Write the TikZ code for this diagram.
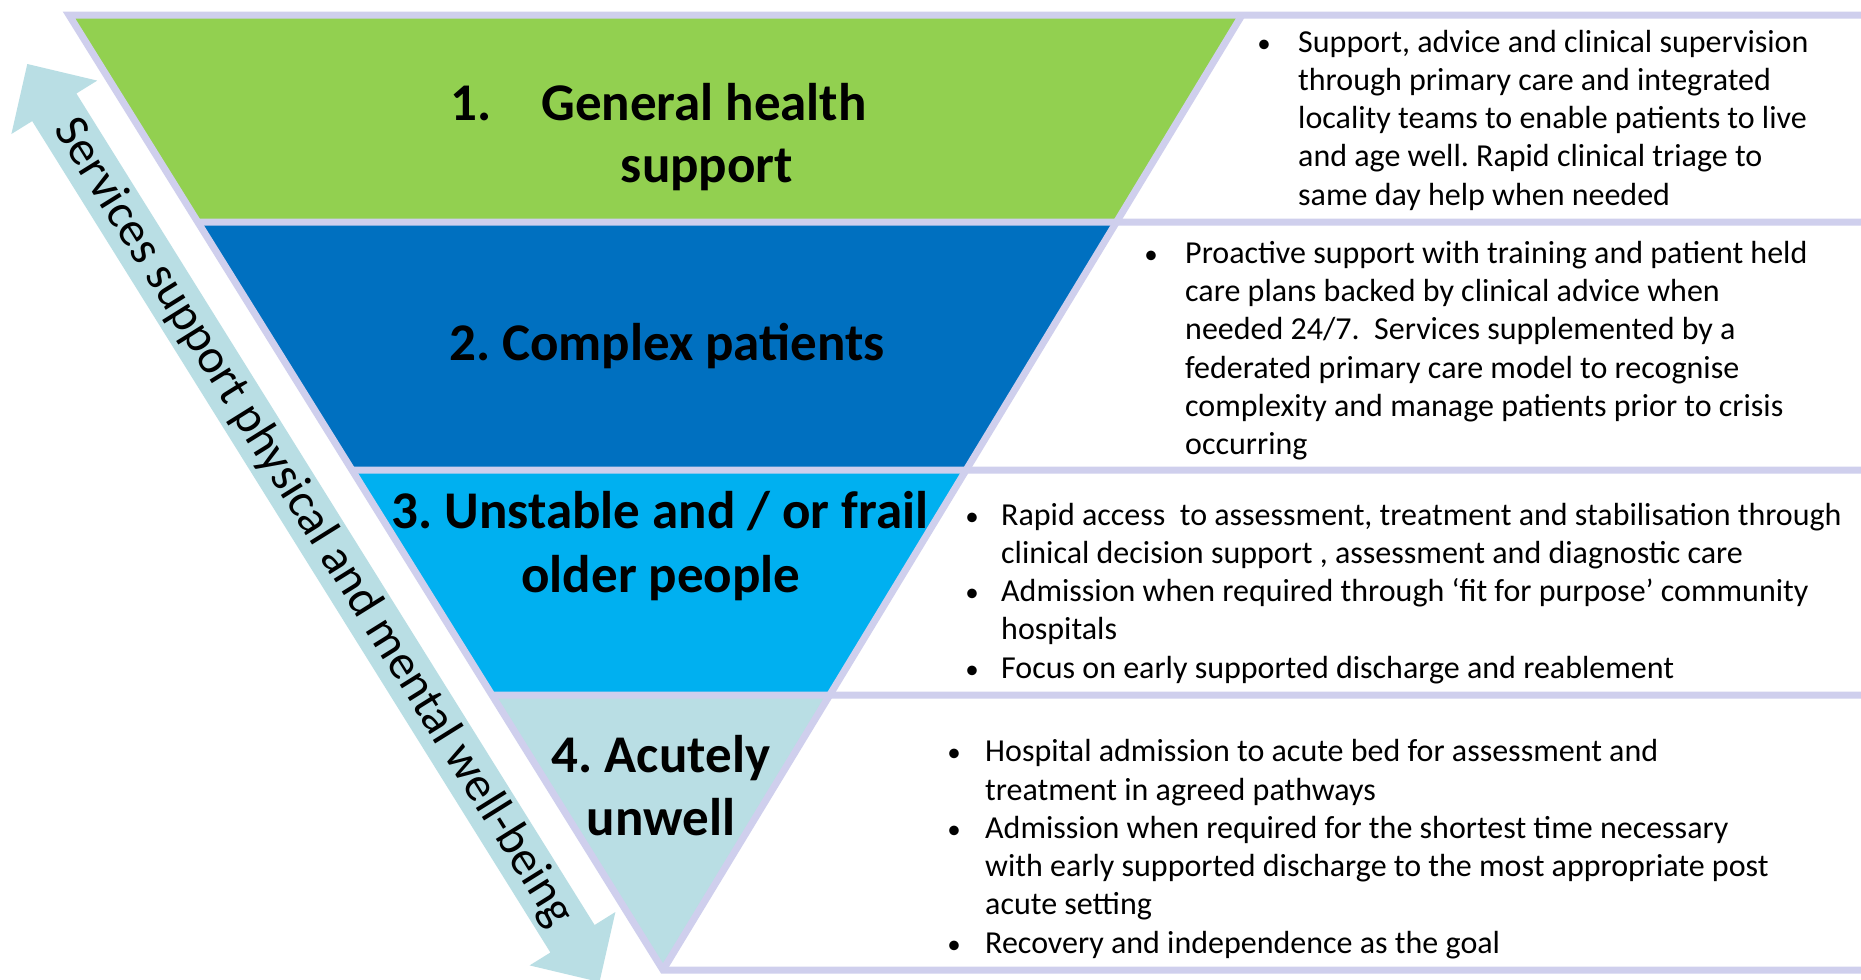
\documentclass[tikz,border=0pt]{standalone}
\usepackage{fontspec}
\setmainfont{Carlito}
\usetikzlibrary{calc}
\frenchspacing
\definecolor{lav}{RGB}{207,207,237}
\definecolor{cgreen}{RGB}{146,208,80}
\definecolor{cblue}{RGB}{0,112,192}
\definecolor{clight}{RGB}{0,176,240}
\definecolor{cpale}{RGB}{185,222,228}
\begin{document}
\begin{tikzpicture}[x=1pt,y=-1pt,
  bandline/.style={draw=lav,line width=7pt,line cap=butt,line join=miter},
  title/.style={font=\fontsize{53}{63}\selectfont\bfseries,inner sep=0pt,anchor=base},
  body/.style={font=\fontsize{32}{38.3}\selectfont,inner sep=0pt,anchor=base west},
  bul/.style={font=\fontsize{27}{38.3}\selectfont,inner sep=0pt,anchor=base},
  arrowbody/.style={fill=cpale},
  arrowtext/.style={font=\fontsize{48.5}{56}\selectfont,inner sep=0pt,rotate=-58.06}]
\useasboundingbox (0,0) rectangle (1861,980);
\fill[white] (0,0) rectangle (1861,980);
% triangle corners
\coordinate (A) at (69,15);
\coordinate (B) at (1242,15);
\coordinate (C) at (663,970);
\coordinate (L1) at ($(A)!0.216754!(C)$);
\coordinate (R1) at ($(B)!0.216754!(C)$);
\coordinate (L2) at ($(A)!0.476440!(C)$);
\coordinate (R2) at ($(B)!0.476440!(C)$);
\coordinate (L3) at ($(A)!0.712042!(C)$);
\coordinate (R3) at ($(B)!0.712042!(C)$);
\coordinate (E0) at (1861,15);
\coordinate (E1) at (1861,222);
\coordinate (E2) at (1861,470);
\coordinate (E3) at (1861,695);
\coordinate (E4) at (1861,970);
% bands
\fill[cgreen] (A) -- (B) -- (R1) -- (L1) -- cycle;
\fill[cblue] (L1) -- (R1) -- (R2) -- (L2) -- cycle;
\fill[clight] (L2) -- (R2) -- (R3) -- (L3) -- cycle;
\fill[cpale] (L3) -- (R3) -- (C) -- cycle;
% lines
\draw[bandline] (E0) -- (A) -- (C) -- (E4);
\draw[bandline] (B) -- (C);
\draw[bandline] (L1) -- (E1);
\draw[bandline] (L2) -- (E2);
\draw[bandline] (L3) -- (E3);
% double arrow
\coordinate (Ttip) at (27.3,64);
\coordinate (Btip) at (599.5,982);
\fill[arrowbody] (Ttip) -- (97.2,80.6) -- (76.4,93.5) -- (594.6,925) -- (615.4,912)
  -- (Btip) -- (529.6,965.4) -- (550.4,952.5) -- (32.2,121.1) -- (11.4,134) -- cycle;
\node[arrowtext] (arrowlabel) at ($(Ttip)!0.5!(Btip)$) {Services support physical and mental well-being};
% titles
\node[title,anchor=base west] (t1n) at (450,120) {1.};
\node[title] (t1a) at (704,120) {General health};
\node[title] (t1b) at (707,182) {support};
\node[title] (t2) at (667,360) {2. Complex patients};
\node[title] (t3a) at (660,528) {3. Unstable and / or frail};
\node[title] (t3b) at (661,592) {older people};
\node[title] (t4a) at (661,772) {4. Acutely};
\node[title] (t4b) at (661,835) {unwell};
% bullets box 1
\node[bul] (u11) at (1264,52) {•};
\node[body] (b1) at (1298,52) {\parbox[t]{560pt}{Support, advice and clinical supervision\\through primary care and integrated\\locality teams to enable patients to live\\and age well. Rapid clinical triage to\\same day help when needed}};
% box 2
\node[bul] (u21) at (1151,263.3) {•};
\node[body] (b2) at (1185,263.3) {\parbox[t]{670pt}{Proactive support with training and patient held\\care plans backed by clinical advice when\\needed 24/7.\ \ Services supplemented by a\\federated primary care model to recognise\\complexity and manage patients prior to crisis\\occurring}};
% box 3
\node[bul] (u31) at (972,525) {•};
\node[bul] (u32) at (972,601.6) {•};
\node[bul] (u33) at (972,678.2) {•};
\node[body] (b3) at (1001,525) {\parbox[t]{860pt}{Rapid access\ \ to assessment, treatment and stabilisation through\\clinical decision support , assessment and diagnostic care\\Admission when required through ‘fit for purpose’ community\\hospitals\\Focus on early supported discharge and reablement}};
% box 4
\node[bul] (u41) at (954,761.7) {•};
\node[bul] (u42) at (954,838.3) {•};
\node[bul] (u43) at (954,953.3) {•};
\node[body] (b4) at (985,761.7) {\parbox[t]{860pt}{Hospital admission to acute bed for assessment and\\treatment in agreed pathways\\Admission when required for the shortest time necessary\\with early supported discharge to the most appropriate post\\acute setting\\Recovery and independence as the goal}};
\end{tikzpicture}
\end{document}
